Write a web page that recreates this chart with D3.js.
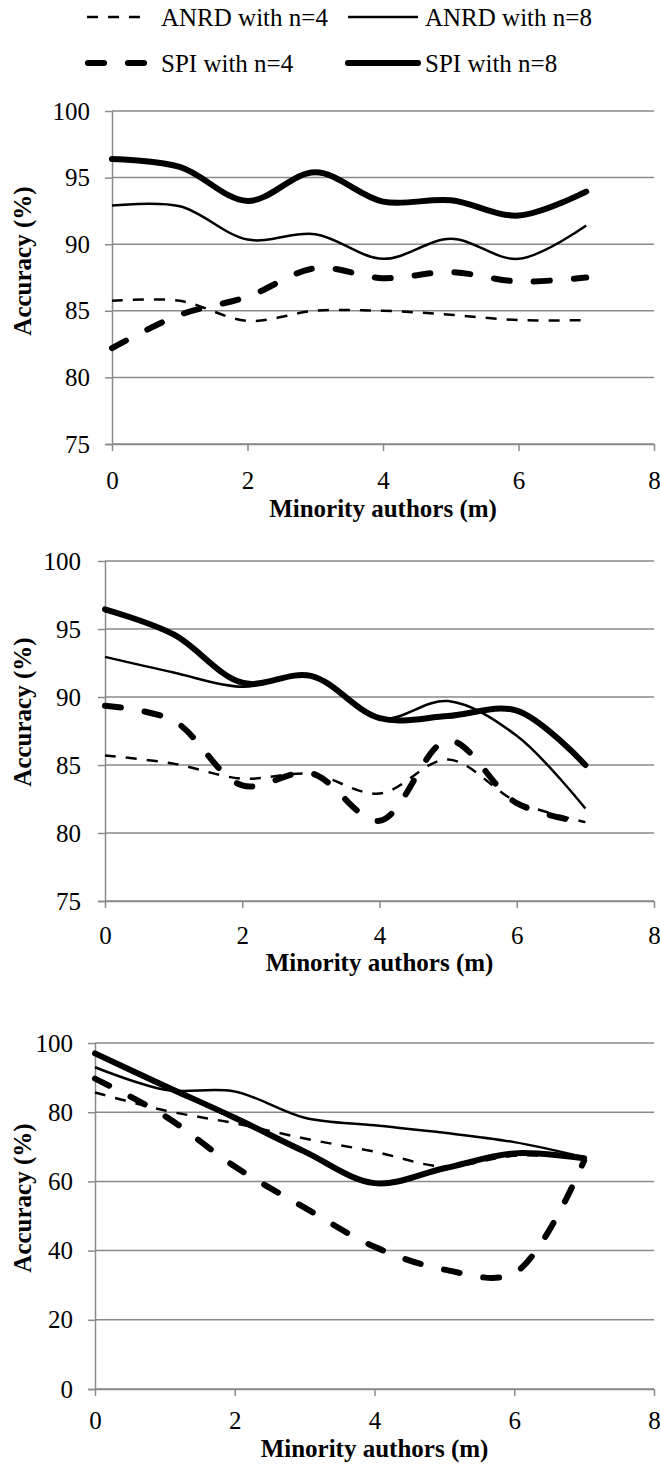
<!DOCTYPE html>
<html>
<head>
<meta charset="UTF-8">
<style>
  body { margin: 0; background: #fff; }
</style>
</head>
<body>
<script src="https://d3js.org/d3.v7.min.js"></script>
<script>
var width = 660, height = 1464;
var serif = '"Liberation Serif", "Times New Roman", serif';

// x values shared by every series
var authors = [0, 1, 2, 3, 4, 5, 6, 7];
var xTicks = [0, 2, 4, 6, 8];

var seriesNames = ['ANRD with n=4', 'ANRD with n=8', 'SPI with n=4', 'SPI with n=8'];

// panel 1
var p1_anrd4 = [85.75, 85.75, 84.25, 85.0, 85.0, 84.7, 84.3, 84.3];
var p1_anrd8 = [92.9, 92.85, 90.35, 90.75, 88.9, 90.4, 88.9, 91.4];
var p1_spi4  = [82.2, 84.7, 86.05, 88.2, 87.45, 87.9, 87.2, 87.5];
var p1_spi8  = [96.4, 95.8, 93.25, 95.4, 93.2, 93.3, 92.15, 93.95];

// panel 2
var p2_anrd4 = [85.7, 85.1, 84.0, 84.35, 82.9, 85.4, 82.3, 80.8];
var p2_anrd8 = [92.95, 91.8, 90.75, 91.5, 88.4, 89.7, 87.15, 81.8];
var p2_spi4  = [89.35, 88.25, 83.5, 84.4, 80.9, 86.8, 82.2, 80.75];
var p2_spi8  = [96.45, 94.6, 91.05, 91.55, 88.45, 88.6, 89.0, 85.0];

// panel 3
var p3_anrd4 = [85.7, 80.5, 76.8, 72.4, 68.6, 64.3, 67.4, 67.0];
var p3_anrd8 = [93.0, 86.5, 86.0, 78.4, 76.2, 74.05, 71.35, 67.0];
var p3_spi4  = [89.7, 78.9, 64.3, 52.4, 41.1, 34.5, 33.5, 66.0];
var p3_spi8  = [97.0, 87.6, 78.4, 68.6, 59.5, 63.8, 68.1, 66.7];

var yTicks12 = [75, 80, 85, 90, 95, 100];
var yTicks3 = [0, 20, 40, 60, 80, 100];

// line look for each series, same order as seriesNames
var styles = [
  {w: 2.5, dash: '11,10', cap: 'butt'},
  {w: 2.5, dash: null, cap: 'butt'},
  {w: 6, dash: '16,24', cap: 'round'},
  {w: 6, dash: null, cap: 'round'}
];

var panels = [
  {data: [p1_anrd4, p1_anrd8, p1_spi4, p1_spi8], domain: [75, 100], ticks: yTicks12,
   left: 112, top: 111, bottom: 444, tickY: 480, titleY: 508, labelY: 261, pad: 15},
  {data: [p2_anrd4, p2_anrd8, p2_spi4, p2_spi8], domain: [75, 100], ticks: yTicks12,
   left: 105, top: 561, bottom: 901, tickY: 935, titleY: 962, labelY: 712, pad: 17},
  {data: [p3_anrd4, p3_anrd8, p3_spi4, p3_spi8], domain: [0, 100], ticks: yTicks3,
   left: 95, top: 1043, bottom: 1389, tickY: 1420, titleY: 1448, labelY: 1198, pad: 15}
];
var right = 654;

var svg = d3.select('body').append('svg').attr('width', width).attr('height', height)
  .attr('font-family', serif);

// legend
var legend = [
  {x1: 87, x2: 142, tx: 161, y: 17},
  {x1: 348, x2: 418, tx: 425, y: 17},
  {x1: 88, x2: 146, tx: 161, y: 63},
  {x1: 348, x2: 418, tx: 425, y: 63}
];
legend.forEach(function(d, i) {
  svg.append('line')
    .attr('x1', d.x1).attr('x2', d.x2).attr('y1', d.y).attr('y2', d.y)
    .attr('stroke', '#000').attr('stroke-width', styles[i].w)
    .attr('stroke-linecap', styles[i].cap)
    .attr('stroke-dasharray', styles[i].dash);
  svg.append('text')
    .attr('x', d.tx).attr('y', d.y).attr('dy', '0.35em')
    .attr('font-family', serif).attr('font-size', 25)
    .text(seriesNames[i]);
});

panels.forEach(function(p) {
  var x = d3.scaleLinear().domain([0, 8]).range([p.left, right]);
  var y = d3.scaleLinear().domain(p.domain).range([p.bottom, p.top]);
  var g = svg.append('g');

  // horizontal gridlines
  g.selectAll('.grid').data(p.ticks).join('line')
    .attr('x1', p.left).attr('x2', right)
    .attr('y1', function(d) { return y(d) }).attr('y2', function(d) { return y(d) })
    .attr('stroke', '#8a8a8a').attr('stroke-width', 1.5);

  var ya = g.append('g').attr('transform', 'translate(' + p.left + ',0)')
    .call(d3.axisLeft(y).tickValues(p.ticks).tickSize(7).tickPadding(p.pad).tickFormat(d3.format('d')));
  var xa = g.append('g').attr('transform', 'translate(0,' + p.bottom + ')')
    .call(d3.axisBottom(x).tickValues(xTicks).tickSize(7).tickPadding(0).tickFormat(d3.format('d')));
  [ya, xa].forEach(function(a) {
    a.attr('font-family', serif).attr('font-size', 25);
    a.select('.domain').attr('stroke', '#8a8a8a').attr('stroke-width', 1.5);
    a.selectAll('.tick line').attr('stroke', '#8a8a8a').attr('stroke-width', 1.5);
    a.selectAll('text').attr('fill', '#000');
  });
  ya.select('.domain').attr('d', 'M0.5,' + p.top + 'V' + p.bottom);
  xa.select('.domain').attr('d', 'M' + (p.left - 7) + ',0.5H' + right);
  xa.selectAll('text').attr('y', p.tickY - p.bottom).attr('dy', '0.35em');

  g.append('text')
    .attr('x', (p.left + right) / 2).attr('y', p.titleY).attr('dy', '0.35em')
    .attr('text-anchor', 'middle')
    .attr('font-family', serif).attr('font-size', 25).attr('font-weight', 'bold')
    .text('Minority authors (m)');
  g.append('text')
    .attr('transform', 'translate(22,' + p.labelY + ') rotate(-90)')
    .attr('dy', '0.35em').attr('text-anchor', 'middle')
    .attr('font-family', serif).attr('font-size', 25).attr('font-weight', 'bold')
    .text('Accuracy (%)');

  var line = d3.line()
    .x(function(d, i) { return x(authors[i]) })
    .y(function(d) { return y(d) })
    .curve(d3.curveCatmullRom);

  p.data.forEach(function(vals, i) {
    g.append('path')
      .attr('d', line(vals))
      .attr('fill', 'none').attr('stroke', '#000')
      .attr('stroke-width', styles[i].w)
      .attr('stroke-linecap', styles[i].cap)
      .attr('stroke-linejoin', 'round')
      .attr('stroke-dasharray', styles[i].dash);
  });
});
</script>
</body>
</html>
